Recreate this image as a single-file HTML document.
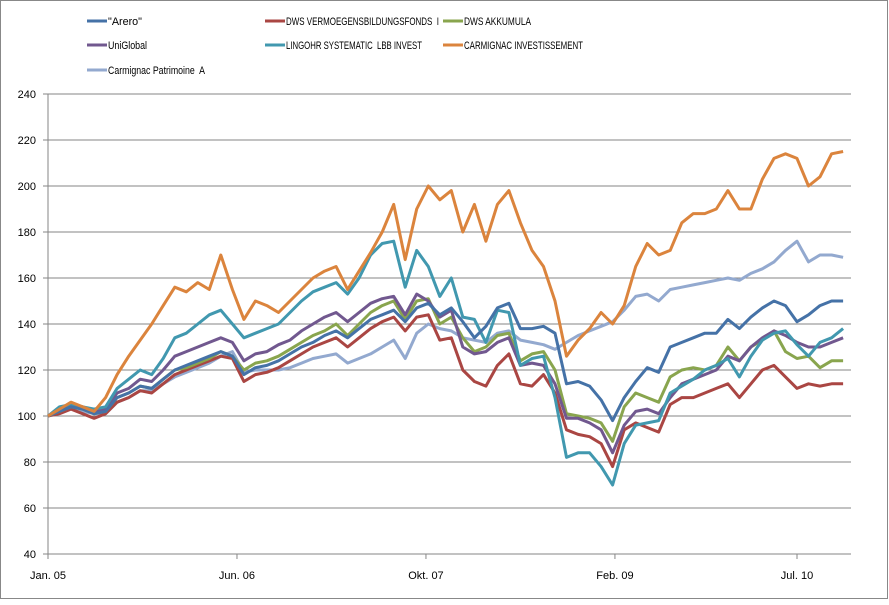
<!DOCTYPE html>
<html><head><meta charset="utf-8"><style>
body{margin:0;background:#fff;font-family:"Liberation Sans",sans-serif;}
svg text{font-family:"Liberation Sans",sans-serif;font-size:11px;fill:#000;}
</style></head><body>
<svg id="chart" width="889" height="600" xmlns="http://www.w3.org/2000/svg">
<rect x="0.5" y="0.5" width="887" height="598" fill="#fff" stroke="#888"/>
<g id="grid"></g>
<g id="axes"></g>
<g id="series"></g>
<g id="legend"></g>
</svg>
<script>
const yTicks=[40,60,80,100,120,140,160,180,200,220,240];
const xTickLabels=["Jan. 05","Jun. 06","Okt. 07","Feb. 09","Jul. 10"];
const xTickMonths=[0,16.4,32.8,49.2,65];
const seriesNames=['"Arero"',"DWS VERMOEGENSBILDUNGSFONDS  I","DWS AKKUMULA","UniGlobal","LINGOHR SYSTEMATIC  LBB INVEST","CARMIGNAC INVESTISSEMENT","Carmignac Patrimoine  A"];
const seriesColors=["#4572A7","#AA4643","#89A54E","#71588F","#4198AF","#DB843D","#93A9CF"];
const arero=[100,102,104,103,101,102,108,110,113,112,116,120,122,124,126,128,126,118,121,122,124,127,130,132,135,137,134,138,142,144,146,141,147,149,144,147,141,134,139,147,149,138,138,139,136,114,115,113,107,98,108,115,121,119,130,132,134,136,136,142,138,143,147,150,148,141,144,148,150,150];
const dwsVerm=[100,101,103,101,99,101,106,108,111,110,114,118,120,122,124,126,125,115,118,119,121,124,127,130,132,134,130,134,138,141,143,137,143,144,133,134,120,115,113,122,127,114,113,118,110,94,92,91,88,78,94,97,95,93,105,108,108,110,112,114,108,114,120,122,117,112,114,113,114,114];
const dwsAkk=[100,102,104,103,101,102,108,110,113,112,116,120,121,123,125,128,126,120,123,124,126,129,132,135,137,140,135,140,145,148,150,142,150,151,140,143,134,128,130,135,136,124,127,128,120,101,100,99,97,89,104,110,108,106,117,120,121,120,122,130,124,130,133,137,128,125,126,121,124,124];
const uniGlobal=[100,103,105,104,102,103,110,112,116,115,120,126,128,130,132,134,132,124,127,128,131,133,137,140,143,145,141,145,149,151,152,144,153,150,143,146,130,127,128,132,134,122,123,122,114,99,99,97,94,84,96,102,103,101,108,114,116,118,120,126,124,130,134,137,135,132,130,130,132,134];
const lingohr=[100,104,105,104,103,104,112,116,120,118,125,134,136,140,144,146,140,134,136,138,140,145,150,154,156,158,153,160,170,175,176,156,172,165,152,160,143,142,132,146,145,122,125,126,108,82,84,84,78,70,88,96,97,98,110,113,116,120,122,125,117,126,133,136,137,131,126,132,134,138];
const carmInv=[100,103,106,104,102,108,118,126,133,140,148,156,154,158,155,170,155,142,150,148,145,150,155,160,163,165,155,163,171,180,192,168,190,200,194,198,180,192,176,192,198,184,172,165,150,126,133,138,145,140,148,165,175,170,172,184,188,188,190,198,190,190,203,212,214,212,200,204,214,215];
const carmPat=[100,102,104,102,101,101,106,108,111,111,114,117,119,121,123,126,128,119,120,120,120,121,123,125,126,127,123,125,127,130,133,125,136,140,138,137,134,133,132,136,137,133,132,131,129,132,135,137,139,141,146,152,153,150,155,156,157,158,159,160,159,162,164,167,172,176,167,170,170,169];
const allSeries=[arero,dwsVerm,dwsAkk,uniGlobal,lingohr,carmInv,carmPat];
const seriesKeys=["arero","dws-vermoegensbildung","dws-akkumula","uniglobal","lingohr","carmignac-invest","carmignac-patrimoine"];

const NS="http://www.w3.org/2000/svg";
const X0=48,X1=851,Y0=554,Y1=94;
const pxPerMonth=(797-48)/65;
function xs(m){return X0+m*pxPerMonth;}
function ys(v){return Y0-(v-40)/(240-40)*(Y0-Y1);}
function mk(tag,attrs,parent){const e=document.createElementNS(NS,tag);for(const k in attrs)e.setAttribute(k,attrs[k]);parent.appendChild(e);return e;}
const grid=document.getElementById('grid'),axes=document.getElementById('axes'),ser=document.getElementById('series'),leg=document.getElementById('legend');
yTicks.forEach(v=>{
  const l=mk('line',{x1:X0,x2:X1,y1:ys(v),y2:ys(v),stroke:'#868686','stroke-width':1},grid);
  
  
  const t=mk('line',{x1:X0-5,x2:X0,y1:ys(v),y2:ys(v),stroke:'#868686'},axes);
  
  
  const tx=mk('text',{x:X0-12,y:ys(v)+4,'text-anchor':'end'},axes);tx.textContent=v;
  
  
});
const ya=mk('line',{x1:X0,x2:X0,y1:Y1,y2:Y0,stroke:'#868686'},axes);


xTickLabels.forEach((lab,i)=>{
  const x=xs(xTickMonths[i]);
  const t=mk('line',{x1:x,x2:x,y1:Y0,y2:Y0+5,stroke:'#868686'},axes);
  
  
  const tx=mk('text',{x:x,y:Y0+25,'text-anchor':'middle'},axes);tx.textContent=lab;
  
  
});
const drawOrder=[6,1,2,3,4,0,5];
drawOrder.forEach(si=>{
  const d=allSeries[si].map((v,i)=>(i?'L':'M')+xs(i).toFixed(1)+','+ys(v).toFixed(1)).join(' ');
  const p=mk('path',{d:d,fill:'none',stroke:seriesColors[si],'stroke-width':3,'stroke-linejoin':'round'},ser);
  
  
});
const legPos=[[87,21],[265,21],[443,21],[87,45],[265,45],[443,45],[87,70]];
const legWidths=[34,153,67,39,136,119,97];
legPos.forEach(([x,y],si)=>{
  const g=mk('g',{},leg);
  
  
  mk('line',{x1:x,x2:x+20,y1:y,y2:y,stroke:seriesColors[si],'stroke-width':3},g);
  const t=mk('text',{x:x+21,y:y+4,textLength:legWidths[si],lengthAdjust:'spacingAndGlyphs'},g);
  t.style.whiteSpace='pre';
  t.textContent=seriesNames[si];
});
</script>
</body></html>
